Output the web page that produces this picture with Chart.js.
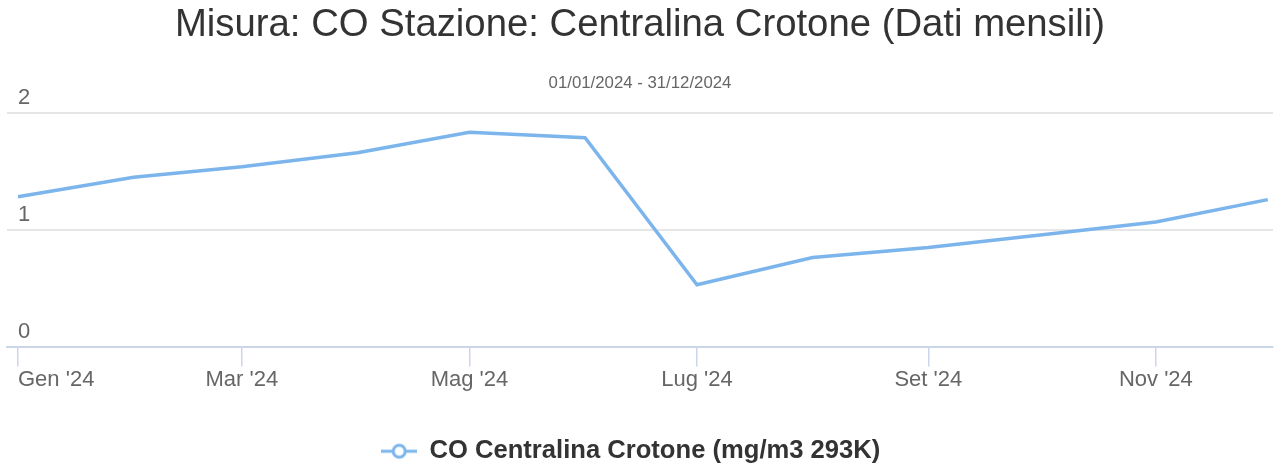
<!DOCTYPE html>
<html>
<head>
<meta charset="utf-8">
<script src="https://cdn.jsdelivr.net/npm/chart.js@4.4.1/dist/chart.umd.min.js"></script>
<style>
html,body{margin:0;padding:0;background:#fff;}
canvas{display:block;}
</style>
</head>
<body>
<canvas id="c" width="1279" height="467"></canvas>
<script>
// ---- data ----
const monthDates = ['2024-01-01','2024-02-01','2024-03-01','2024-04-01','2024-05-01','2024-06-01',
                    '2024-07-01','2024-08-01','2024-09-01','2024-10-01','2024-11-01','2024-12-01'];
const coValues = [1.285, 1.45, 1.54, 1.66, 1.835, 1.787, 0.534, 0.766, 0.851, 0.958, 1.07, 1.26];
const tickDates = ['2024-01-01','2024-03-01','2024-05-01','2024-07-01','2024-09-01','2024-11-01'];
const tickLabels = ["Gen '24", "Mar '24", "Mag '24", "Lug '24", "Set '24", "Nov '24"];
const yTicks = [0, 1, 2];
const seriesName = 'CO Centralina Crotone (mg/m3 293K)';
const titleText = 'Misura: CO Stazione: Centralina Crotone (Dati mensili)';
const subtitleText = '01/01/2024 - 31/12/2024';

const DAY = 86400000;
const origin = Date.UTC(2024, 0, 1);
const toDay = s => (new Date(s + 'T00:00:00Z').getTime() - origin) / DAY;
const monthDays = monthDates.map(toDay);
const tickDays = tickDates.map(toDay);
const X_MIN = -2.95, X_MAX = 336.4;

const points = monthDays.map((d, i) => ({x: d, y: coValues[i]}));

// legend icon: line with hollow circle
const icon = document.createElement('canvas');
icon.width = 36; icon.height = 18;
(function(){
  const g = icon.getContext('2d');
  g.strokeStyle = '#7cb5ec';
  g.lineWidth = 3;
  g.beginPath(); g.moveTo(0, 9); g.lineTo(36, 9); g.stroke();
  g.beginPath(); g.arc(18, 9, 6, 0, Math.PI * 2);
  g.fillStyle = '#ffffff'; g.fill();
  g.lineWidth = 3; g.stroke();
})();

const FONT = '"Liberation Sans", Arial, Helvetica, sans-serif';
Chart.defaults.font.family = FONT;

const shiftLegend = {
  id: 'shiftLegend',
  afterLayout(chart) {
    const lg = chart.legend;
    if (lg) { lg.left -= 9; lg.right -= 9; lg.top += 7; lg.bottom += 7; }
  }
};

new Chart(document.getElementById('c'), {
  type: 'line',
  data: {
    datasets: [{
      label: seriesName,
      data: points,
      borderColor: '#7cb5ec',
      backgroundColor: '#7cb5ec',
      borderWidth: 3.5,
      pointRadius: 0,
      pointHoverRadius: 0,
      tension: 0,
      fill: false
    }]
  },
  options: {
    responsive: false,
    animation: false,
    events: [],
    layout: { padding: { left: 7, right: 6, top: 0, bottom: 0 } },
    plugins: {
      title: {
        display: true, text: titleText, color: '#333333',
        font: { size: 38.3, weight: 'normal', family: FONT },
        padding: { top: 2.5, bottom: 25.3 }
      },
      subtitle: {
        display: true, text: subtitleText, color: '#666666',
        font: { size: 16.8, weight: 'normal', family: FONT },
        padding: { top: 0, bottom: 18.9 }
      },
      legend: {
        display: true, position: 'bottom',
        labels: {
          usePointStyle: true, pointStyle: icon, pointStyleWidth: 35,
          font: { size: 25.6, weight: 'bold', family: FONT },
          color: '#333333', padding: 6
        }
      },
      tooltip: { enabled: false }
    },
    scales: {
      x: {
        type: 'linear', min: X_MIN, max: X_MAX,
        afterBuildTicks: s => { s.ticks = tickDays.map(v => ({value: v})).concat([{value: X_MAX}]); },
        afterFit: s => { s.height = 78.0; },
        ticks: {
          autoSkip: false, maxRotation: 0, align: 'inner', padding: 0,
          color: '#666666', font: { size: 22, family: FONT },
          callback: v => { const i = tickDays.indexOf(v); return i >= 0 ? tickLabels[i] : ''; }
        },
        grid: {
          drawOnChartArea: false, drawTicks: true, tickLength: 19, lineWidth: 1.5,
          tickColor: c => (c.tick && c.tick.value === X_MAX) ? 'rgba(0,0,0,0)' : '#ccd6eb'
        },
        border: { display: true, color: '#ccd6eb', width: 2 }
      },
      y: {
        type: 'linear', min: 0, max: 2,
        afterBuildTicks: s => { s.ticks = yTicks.map(v => ({value: v})); },
        afterFit: s => { s.width = 0; },
        ticks: {
          mirror: true, padding: 11, labelOffset: -15,
          color: '#666666', font: { size: 22, family: FONT }
        },
        grid: {
          drawTicks: false, lineWidth: 2,
          color: c => (c.tick && c.tick.value === 0) ? 'rgba(0,0,0,0)' : '#e6e6e6'
        },
        border: { display: false }
      }
    }
  },
  plugins: [shiftLegend]
});
</script>
</body>
</html>
